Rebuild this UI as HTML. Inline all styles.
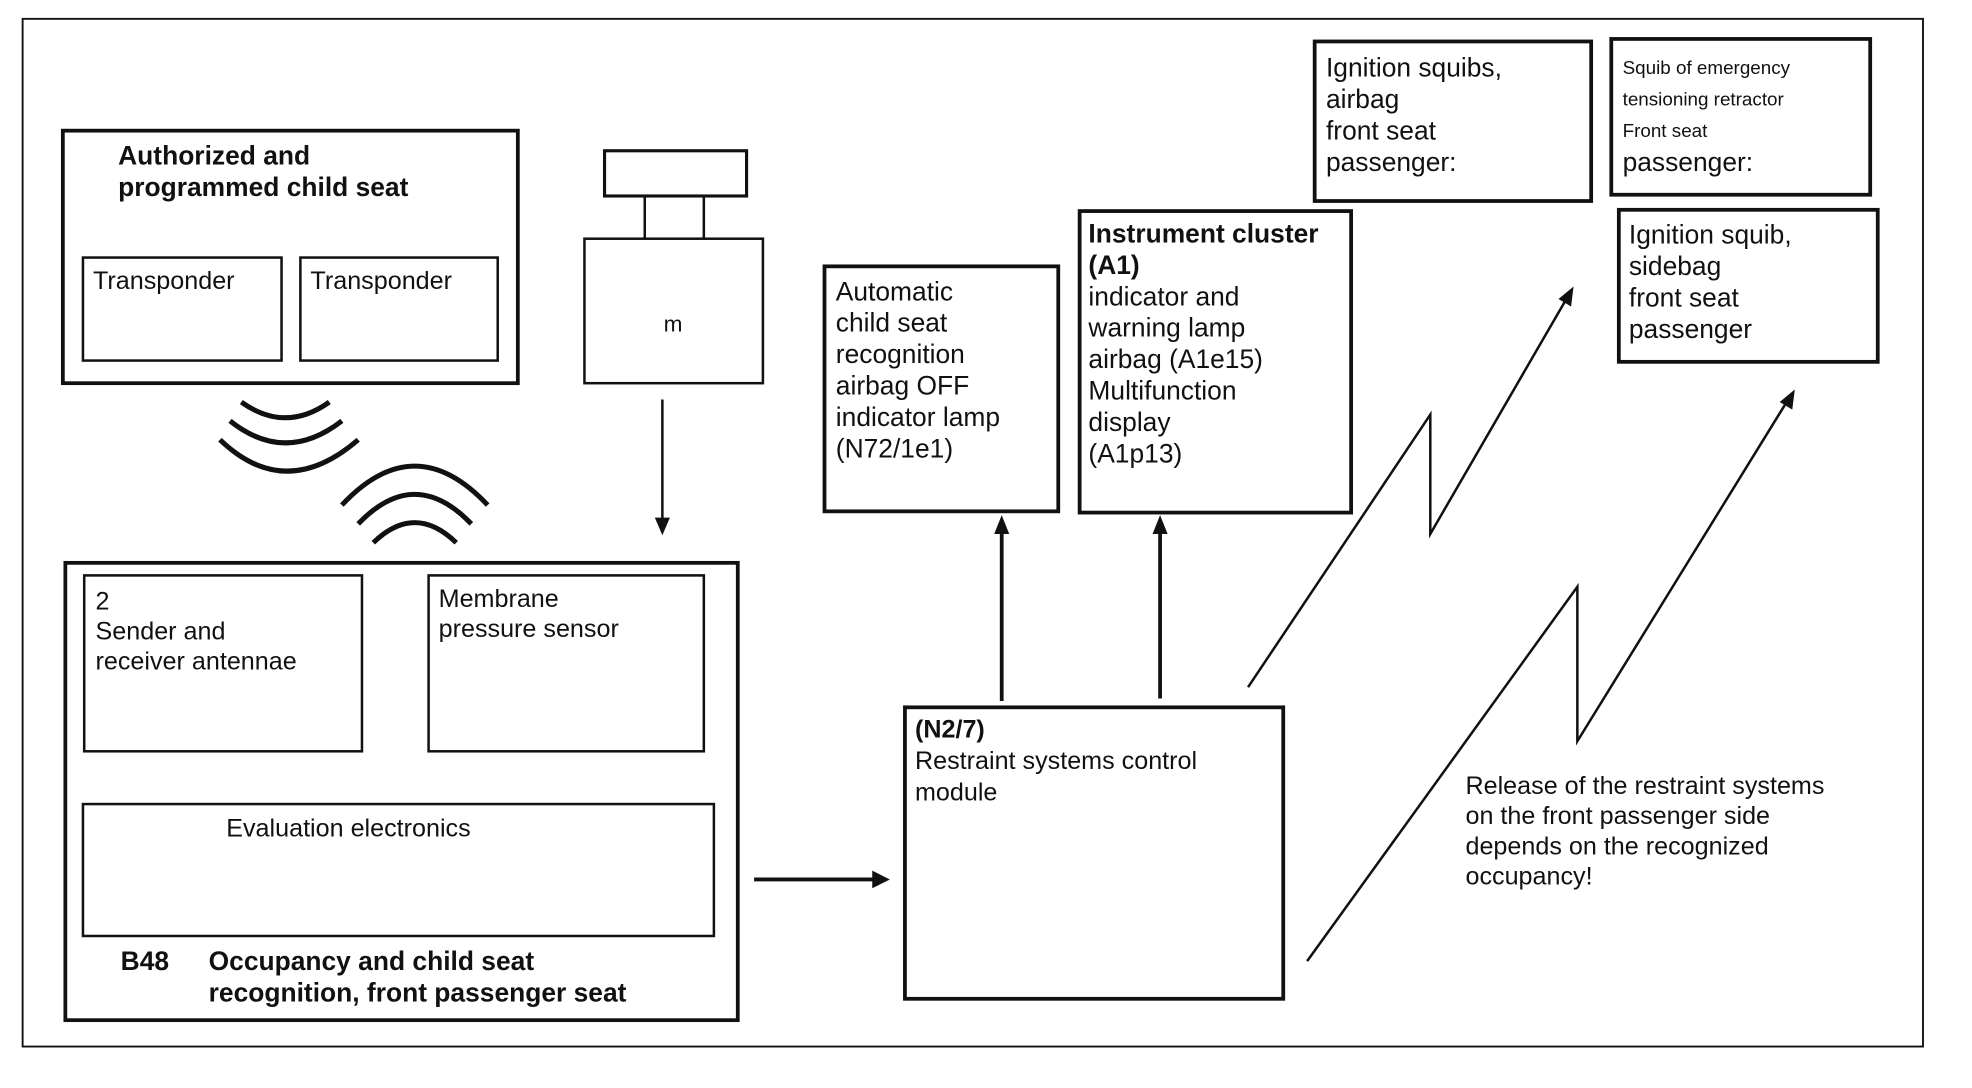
<!DOCTYPE html>
<html><head><style>
html,body{margin:0;padding:0;background:#fff}
svg{display:block}
text{font-family:"Liberation Sans",sans-serif;fill:#111}
.b{font-weight:bold}
</style></head><body>
<svg width="1972" height="1088" viewBox="0 0 1569 866" preserveAspectRatio="none" xmlns="http://www.w3.org/2000/svg">
<g fill="none" stroke="#111">
<rect x="18" y="15" width="1512" height="818" stroke-width="1.5"/>
<rect x="50" y="104" width="362" height="201" stroke-width="3"/>
<rect x="66" y="205" width="158" height="82" stroke-width="2"/>
<rect x="239" y="205" width="157" height="82" stroke-width="2"/>
<path d="M192,320 Q227,345 262,320 M183,335 Q227,370 272,335 M175,350 Q227,400 285,350" stroke-width="4"/>
<path d="M297,432 Q330,400 363,432 M285,417 Q330,370 375,417 M272,402 Q330,340 388,402" stroke-width="4"/>
<rect x="481" y="120" width="113" height="36" stroke-width="2.5"/>
<path d="M513,156 V190 M560,156 V190" stroke-width="2"/>
<rect x="465" y="190" width="142" height="115" stroke-width="2"/>
<path d="M527,318 V420" stroke-width="2"/>
<rect x="52" y="448" width="535" height="364" stroke-width="3"/>
<rect x="67" y="458" width="221" height="140" stroke-width="2"/>
<rect x="341" y="458" width="219" height="140" stroke-width="2"/>
<rect x="66" y="640" width="502" height="105" stroke-width="2"/>
<path d="M600,700 H695" stroke-width="3"/>
<rect x="720" y="563" width="301" height="232" stroke-width="3"/>
<path d="M797,558 V420 M923,556 V420" stroke-width="3"/>
<rect x="656" y="212" width="186" height="195" stroke-width="3"/>
<rect x="859" y="168" width="216" height="240" stroke-width="3"/>
<rect x="1046" y="33" width="220" height="127" stroke-width="3"/>
<rect x="1282" y="31" width="206" height="124" stroke-width="3"/>
<rect x="1288" y="167" width="206" height="121" stroke-width="3"/>
<path d="M993,547 L1138,330 L1138,425 L1248,235" stroke-width="2"/>
<path d="M1040,765 L1255,467 L1255,590 L1424,316" stroke-width="2"/>
</g>
<g fill="#111">
<path d="M521,412 L533,412 L527,426 Z"/>
<path d="M708,700 L694,693 L694,707 Z"/>
<path d="M797,410 L791,425 L803,425 Z"/>
<path d="M923,410 L917,425 L929,425 Z"/>
<path d="M1252,228 L1240,238 L1250,244 Z"/>
<path d="M1428,310 L1416,320 L1426,326 Z"/>
</g>
<text x="94" y="131" font-size="21" class="b">Authorized and</text>
<text x="94" y="156" font-size="21" class="b">programmed child seat</text>
<text x="74" y="230" font-size="20">Transponder</text>
<text x="247" y="230" font-size="20">Transponder</text>
<text x="528" y="264" font-size="18">m</text>
<text x="76" y="485" font-size="20">2</text>
<text x="76" y="509" font-size="20">Sender and</text>
<text x="76" y="533" font-size="20">receiver antennae</text>
<text x="349" y="483" font-size="20">Membrane</text>
<text x="349" y="507" font-size="20">pressure sensor</text>
<text x="180" y="666" font-size="20">Evaluation electronics</text>
<text x="96" y="772" font-size="21" class="b">B48</text>
<text x="166" y="772" font-size="21" class="b">Occupancy and child seat</text>
<text x="166" y="797" font-size="21" class="b">recognition, front passenger seat</text>
<text x="728" y="587" font-size="20" class="b">(N2/7)</text>
<text x="728" y="612" font-size="20">Restraint systems control</text>
<text x="728" y="637" font-size="20">module</text>
<g font-size="21">
<text x="665" y="239">Automatic</text>
<text x="665" y="264">child seat</text>
<text x="665" y="289">recognition</text>
<text x="665" y="314">airbag OFF</text>
<text x="665" y="339">indicator lamp</text>
<text x="665" y="364">(N72/1e1)</text>
<text x="866" y="193" class="b">Instrument cluster</text>
<text x="866" y="218" class="b">(A1)</text>
<text x="866" y="243">indicator and</text>
<text x="866" y="268">warning lamp</text>
<text x="866" y="293">airbag (A1e15)</text>
<text x="866" y="318">Multifunction</text>
<text x="866" y="343">display</text>
<text x="866" y="368">(A1p13)</text>
<text x="1055" y="61">Ignition squibs,</text>
<text x="1055" y="86">airbag</text>
<text x="1055" y="111">front seat</text>
<text x="1055" y="136">passenger:</text>
<text x="1296" y="194">Ignition squib,</text>
<text x="1296" y="219">sidebag</text>
<text x="1296" y="244">front seat</text>
<text x="1296" y="269">passenger</text>
<text x="1291" y="136">passenger:</text>
</g>
<g font-size="15">
<text x="1291" y="59">Squib of emergency</text>
<text x="1291" y="84">tensioning retractor</text>
<text x="1291" y="109">Front seat</text>
</g>
<g font-size="20">
<text x="1166" y="632">Release of the restraint systems</text>
<text x="1166" y="656">on the front passenger side</text>
<text x="1166" y="680">depends on the recognized</text>
<text x="1166" y="704">occupancy!</text>
</g>
</svg>
</body></html>
